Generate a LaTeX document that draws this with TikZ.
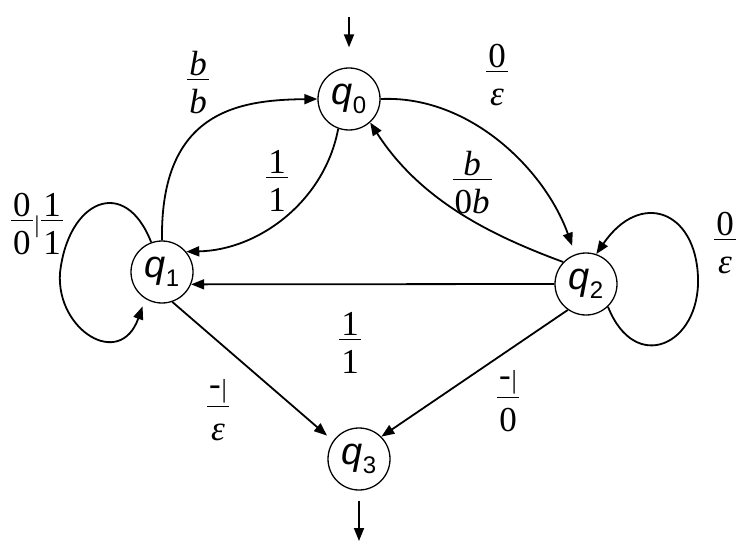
\documentclass[tikz,border=0pt]{standalone}
\usepackage{fontspec}
\setmainfont{Liberation Serif}
\newfontfamily\lfont{Liberation Serif}
\newfontfamily\qfont{Liberation Sans}
\usetikzlibrary{arrows.meta}
\newcommand\fr[2]{%
  \setbox0\hbox{\raisebox{0pt}[24pt][0pt]{#1}}%
  \setbox2\hbox{\raisebox{0pt}[24pt][0pt]{#2}}%
  \dimen0=\wd0 \ifdim\wd2>\dimen0 \dimen0=\wd2 \fi
  \advance\dimen0 by 4pt
  \vbox{\hbox to\dimen0{\hfil\box0\hfil}\kern3pt\hrule height1.2pt\kern9pt\hbox to\dimen0{\hfil\box2\hfil}}}
\newcommand\emark{\raisebox{7pt}{-}\kern1pt\raisebox{5pt}{\fontsize{26}{26}\selectfont|}}
\newcommand\qsub[1]{\textit{q}\raisebox{-9pt}{\fontsize{24}{24}\selectfont #1}}
\begin{document}
\begin{tikzpicture}[x=1pt,y=-1pt,
  state/.style={draw,circle,line width=1.3pt,minimum size=62pt,inner sep=0pt,
    font=\qfont\fontsize{38}{38}\selectfont},
  edge/.style={line width=1.8pt,-{Triangle[length=13pt,width=10pt]}},
  lab/.style={inner sep=0pt,font=\lfont\fontsize{35}{35}\selectfont}]
\useasboundingbox (0,0) rectangle (751,545);
% states
\node[state] (q0) at (349,99) {\qsub{0}};
\node[state] (q1) at (162,272) {\qsub{1}};
\node[state] (q2) at (586,284) {\qsub{2}};
\node[state] (q3) at (359,459) {\qsub{3}};
\coordinate (s0) at (349,17);
\coordinate (f3) at (359,541);
% start and final
\draw[edge,shorten >=20pt] (s0) -- (q0.north);
\draw[edge,shorten <=10pt] (q3.south) -- (f3);
% transitions
\draw[edge] (q1.90) .. controls (160,110) and (240,100) .. (q0.180);
\draw[edge] (q0.250) .. controls (325,200) and (260,250) .. (q1.40);
\draw[edge,shorten >=9pt] (q0.0) .. controls (470,95) and (545,170) .. (q2.110);
\draw[edge] (q2.136) .. controls (490,235) and (420,200) .. (q0.-48);
\draw[edge] (q2.180) -- (q1.-23);
\draw[edge,shorten >=8pt] (q1.-71) -- (q3.145);
\draw[edge] (q2.235) -- (q3.45);
\draw[edge,shorten >=8pt] (q1.110) .. controls (125,175) and (68,200) .. (60,273)
   .. controls (56,330) and (120,370) .. (q1.238);
\draw[edge] (q2.-46) .. controls (635,375) and (700,345) .. (698,278)
   .. controls (696,210) and (640,190) .. (q2.71);
% labels
\node[lab] (lbb) at (198,82.5) {\fr{\textit{b}}{\textit{b}}};
\node[lab] (l11a) at (277,180.5) {\fr{1}{1}};
\node[lab] (l0ea) at (497,74.5) {\fr{0}{\textit{ε}}};
\node[lab] (lb0b) at (472,182.5) {\fr{\textit{b}}{0\textit{b}}};
\node[lab] (lloop) at (37,223.5) {\fr{0}{0}\hspace{2pt}\raisebox{22pt}{\fontsize{24}{24}\selectfont|}\hspace{2pt}\fr{1}{1}};
\node[lab] (l0eb) at (725,242.5) {\fr{0}{\textit{ε}}};
\node[lab] (l11b) at (350,342.5) {\fr{1}{1}};
\node[lab] (lee) at (218,409.5) {\fr{\emark}{\textit{ε}}};
\node[lab] (le0) at (508,400.5) {\fr{\emark}{0}};
\end{tikzpicture}
\end{document}
